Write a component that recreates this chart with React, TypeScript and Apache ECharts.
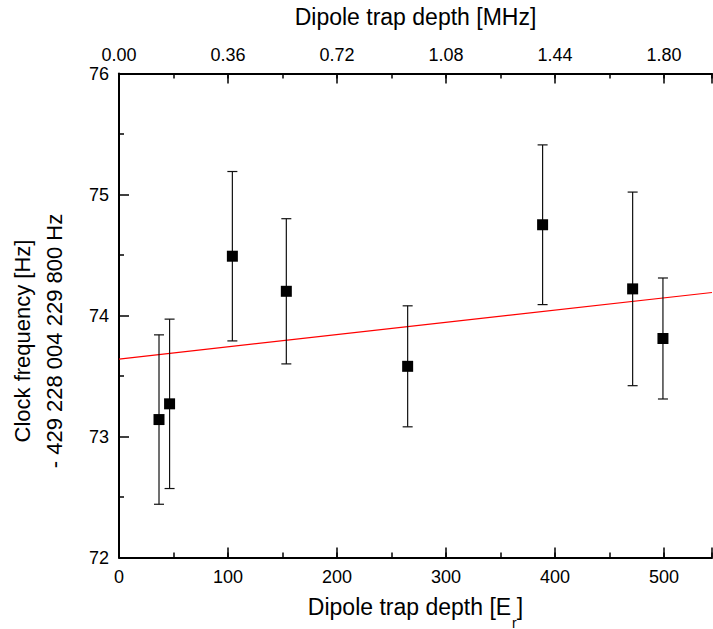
import React, { useEffect, useRef } from 'react';
import * as echarts from 'echarts';

// Data
const trapDepthEr = [36.7, 46.4, 104, 153.5, 264.8, 388.6, 471.2, 499];
const clockFreq = [73.14, 73.27, 74.49, 74.2, 73.58, 74.75, 74.22, 73.81];
const freqErr = [0.7, 0.7, 0.7, 0.6, 0.5, 0.66, 0.8, 0.5];
const fitX = [0, 544];
const fitY = [73.64, 74.19];

const X_MIN = 0;
const X_MAX = 544;
const ER_TO_MHZ = 0.0036;
const Y_MIN = 72;
const Y_MAX = 76;

const FONT = '"Liberation Sans", Arial, Helvetica, sans-serif';

export default function App() {
  const ref = useRef<HTMLDivElement>(null);

  useEffect(() => {
    if (!ref.current) return;
    const chart = echarts.init(ref.current, undefined, { renderer: 'svg' });

    const tickCommon = {
      axisLine: { show: false, onZero: false },
      axisLabel: { show: false },
      splitLine: { show: false },
      axisTick: { show: true, inside: true, length: 5, lineStyle: { color: '#000', width: 1.5 } },
    };

    const option: any = {
      animation: false,
      backgroundColor: '#fff',
      grid: { left: 119, right: 1, top: 73.5, bottom: 71.5, containLabel: false, outerBoundsMode: 'none' },
      xAxis: [
        {
          type: 'value',
          position: 'bottom',
          min: X_MIN,
          max: X_MAX,
          interval: 100,
          name: '{m|Dipole trap depth [E}{s|r}{m|]}',
          nameLocation: 'middle',
          nameGap: 38,
          nameTextStyle: {
            rich: {
              m: { fontSize: 23, lineHeight: 23, fontFamily: FONT, color: '#000', verticalAlign: 'top' },
              s: { fontSize: 14, lineHeight: 14, fontFamily: FONT, color: '#000', verticalAlign: 'top', padding: [20, 0, 0, 1] },
            },
          },
          axisLine: { show: true, onZero: false, lineStyle: { color: '#000', width: 2 } },
          axisTick: { show: true, inside: true, length: 10, lineStyle: { color: '#000', width: 1.5 } },
          axisLabel: {
            show: true,
            margin: 10,
            fontSize: 18,
            fontFamily: FONT,
            color: '#000',
            formatter: (v: number) => (Math.abs(v % 100) < 1e-9 ? String(v) : ''),
          },
          splitLine: { show: false },
        },
        {
          type: 'value',
          position: 'bottom',
          min: X_MIN,
          max: X_MAX,
          interval: 50,
          ...tickCommon,
        },
        {
          type: 'value',
          position: 'top',
          min: X_MIN * ER_TO_MHZ,
          max: X_MAX * ER_TO_MHZ,
          interval: 0.36,
          name: 'Dipole trap depth [MHz]',
          nameLocation: 'middle',
          nameGap: 45,
          nameTextStyle: { fontSize: 23, lineHeight: 23, fontFamily: FONT, color: '#000' },
          axisLine: { show: true, onZero: false, lineStyle: { color: '#000', width: 2 } },
          axisTick: { show: true, inside: true, length: 10, lineStyle: { color: '#000', width: 1.5 } },
          axisLabel: {
            show: true,
            margin: 10,
            fontSize: 18,
            fontFamily: FONT,
            color: '#000',
            formatter: (v: number) => {
              const k = v / 0.36;
              return Math.abs(k - Math.round(k)) < 1e-6 ? v.toFixed(2) : '';
            },
          },
          splitLine: { show: false },
        },
        {
          type: 'value',
          position: 'top',
          min: X_MIN * ER_TO_MHZ,
          max: X_MAX * ER_TO_MHZ,
          interval: 0.18,
          ...tickCommon,
        },
      ],
      yAxis: [
        {
          type: 'value',
          position: 'left',
          min: Y_MIN,
          max: Y_MAX,
          interval: 1,
          axisLine: { show: true, onZero: false, lineStyle: { color: '#000', width: 2 } },
          axisTick: { show: true, inside: true, length: 10, lineStyle: { color: '#000', width: 1.5 } },
          minorTick: { show: true, splitNumber: 2, length: 5, lineStyle: { color: '#000', width: 1.5 } },
          axisLabel: { show: true, margin: 10, fontSize: 18, fontFamily: FONT, color: '#000' },
          splitLine: { show: false },
          minorSplitLine: { show: false },
        },
      ],
      graphic: [
        {
          type: 'text',
          x: 38.5,
          y: 341,
          rotation: Math.PI / 2,
          style: {
            text: 'Clock frequency [Hz]\n- 429 228 004 229 800 Hz',
            font: '22px ' + FONT,
            fill: '#000',
            align: 'center',
            verticalAlign: 'middle',
            lineHeight: 32,
          },
        },
      ],
      series: [
        {
          type: 'line',
          xAxisIndex: 0,
          yAxisIndex: 0,
          data: fitX.map((x, i) => [x, fitY[i]]),
          showSymbol: false,
          symbol: 'none',
          lineStyle: { color: '#ff0000', width: 1.2 },
          z: 1,
          silent: true,
        },
        {
          type: 'custom',
          xAxisIndex: 0,
          yAxisIndex: 0,
          data: trapDepthEr.map((x, i) => [x, clockFreq[i] - freqErr[i], clockFreq[i] + freqErr[i]]),
          encode: { x: 0, y: [1, 2] },
          z: 2,
          renderItem: (params: any, api: any) => {
            const x = api.value(0);
            const lo = api.coord([x, api.value(1)]);
            const hi = api.coord([x, api.value(2)]);
            const hw = 5;
            const style = { stroke: '#111', lineWidth: 1.2 };
            return {
              type: 'group',
              children: [
                { type: 'line', shape: { x1: lo[0], y1: lo[1], x2: hi[0], y2: hi[1] }, style },
                { type: 'line', shape: { x1: lo[0] - hw, y1: lo[1], x2: lo[0] + hw, y2: lo[1] }, style },
                { type: 'line', shape: { x1: hi[0] - hw, y1: hi[1], x2: hi[0] + hw, y2: hi[1] }, style },
              ],
            };
          },
        },
        {
          type: 'scatter',
          xAxisIndex: 0,
          yAxisIndex: 0,
          data: trapDepthEr.map((x, i) => [x, clockFreq[i]]),
          symbol: 'rect',
          symbolSize: 11,
          itemStyle: { color: '#000', opacity: 1 },
          z: 3,
        },
      ],
    };

    chart.setOption(option);
    return () => chart.dispose();
  }, []);

  return (
    <div
      ref={ref}
      style={{ position: 'fixed', left: 0, top: 0, width: 713, height: 629, background: '#fff' }}
    />
  );
}
